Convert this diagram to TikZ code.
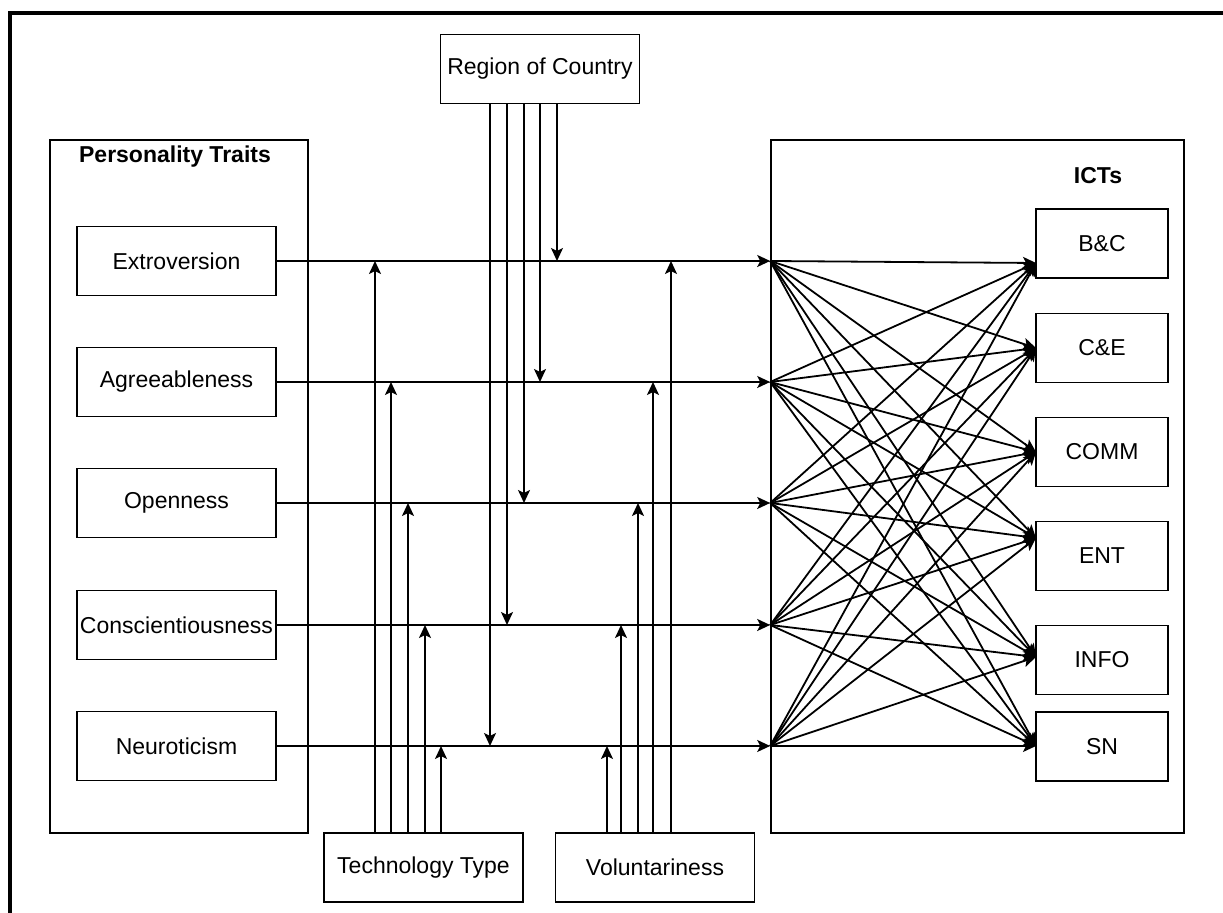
\documentclass[tikz,border=0pt]{standalone}
\usepackage{fontspec}
\setmainfont{Liberation Sans}
\usetikzlibrary{arrows.meta}

\tikzset{
  box/.style={draw, line width=0.8pt, inner sep=1pt, minimum width=99.5pt, minimum height=34.5pt,
    font=\fontsize{11.5}{14}\selectfont},
  ictbox/.style={box, minimum width=66pt},
  group/.style={draw, line width=0.8pt},
  title/.style={font=\fontsize{11.5}{14}\selectfont\bfseries},
  link/.style={line width=0.9pt, -{Stealth[length=6.5pt,width=6pt,inset=1.5pt]}}
}

\begin{document}
\begin{tikzpicture}[x=0.5pt, y=-0.5pt]

  \useasboundingbox (0,0) rectangle (1223,913);
  \draw[line width=2pt] (10,913) -- (10,13) -- (1223,13);

  \node[group, minimum width=129pt, minimum height=346.5pt] (traits) at (179,486.5) {};
  \node[title] at (175,157) {Personality Traits};
  \node[group, minimum width=206.5pt, minimum height=346.5pt] (icts) at (977.5,486.5) {};
  \node[title] at (1098,176) {ICTs};

  \node[box] (ext) at (176.5,261) {Extroversion};
  \node[box] (agr) at (176.5,382) {Agreeableness};
  \node[box] (ope) at (176.5,503) {Openness};
  \node[box] (con) at (176.5,625) {Conscientiousness};
  \node[box] (neu) at (176.5,746) {Neuroticism};

  \node[ictbox] (bc) at (1102,243.5) {B\&C};
  \node[ictbox] (ce) at (1102,348) {C\&E};
  \node[ictbox] (comm) at (1102,452) {COMM};
  \node[ictbox] (ent) at (1102,556) {ENT};
  \node[ictbox] (info) at (1102,660) {INFO};
  \node[ictbox] (sn) at (1102,746.5) {SN};

  \node[box] (region) at (540,69) {Region of Country};
  \node[box] (tech) at (423.5,867.5) {Technology Type};
  \node[box] (vol) at (655,867.5) {Voluntariness};

  \foreach \s in {ext,agr,ope,con,neu}
    \coordinate (j\s) at (icts.west |- \s.east);
  \coordinate (tbc) at (1036,263);
  \coordinate (tce) at (1036,348);
  \coordinate (tcomm) at (1036,452);
  \coordinate (tent) at (1036,538);
  \coordinate (tinfo) at (1036,657);
  \coordinate (tsn) at (1036,746);

  \foreach \s in {ext,agr,ope,con,neu}
    \draw[link] (\s.east) -- (j\s);

  \foreach \x/\t in {557/ext,540/agr,524/ope,507/con,490/neu}
    \draw[link] (region.south -| \x,0) -- (\x,0 |- \t.east);
  \foreach \x/\t in {375/ext,391/agr,408/ope,425/con,441/neu}
    \draw[link] (tech.north -| \x,0) -- (\x,0 |- \t.east);
  \foreach \x/\t in {671/ext,653/agr,638/ope,621/con,607/neu}
    \draw[link] (vol.north -| \x,0) -- (\x,0 |- \t.east);

  \foreach \s in {ext,agr,ope,con,neu}
    \foreach \t in {bc,ce,comm,ent,info,sn}
      \draw[link] (j\s) -- (t\t);

\end{tikzpicture}
\end{document}
